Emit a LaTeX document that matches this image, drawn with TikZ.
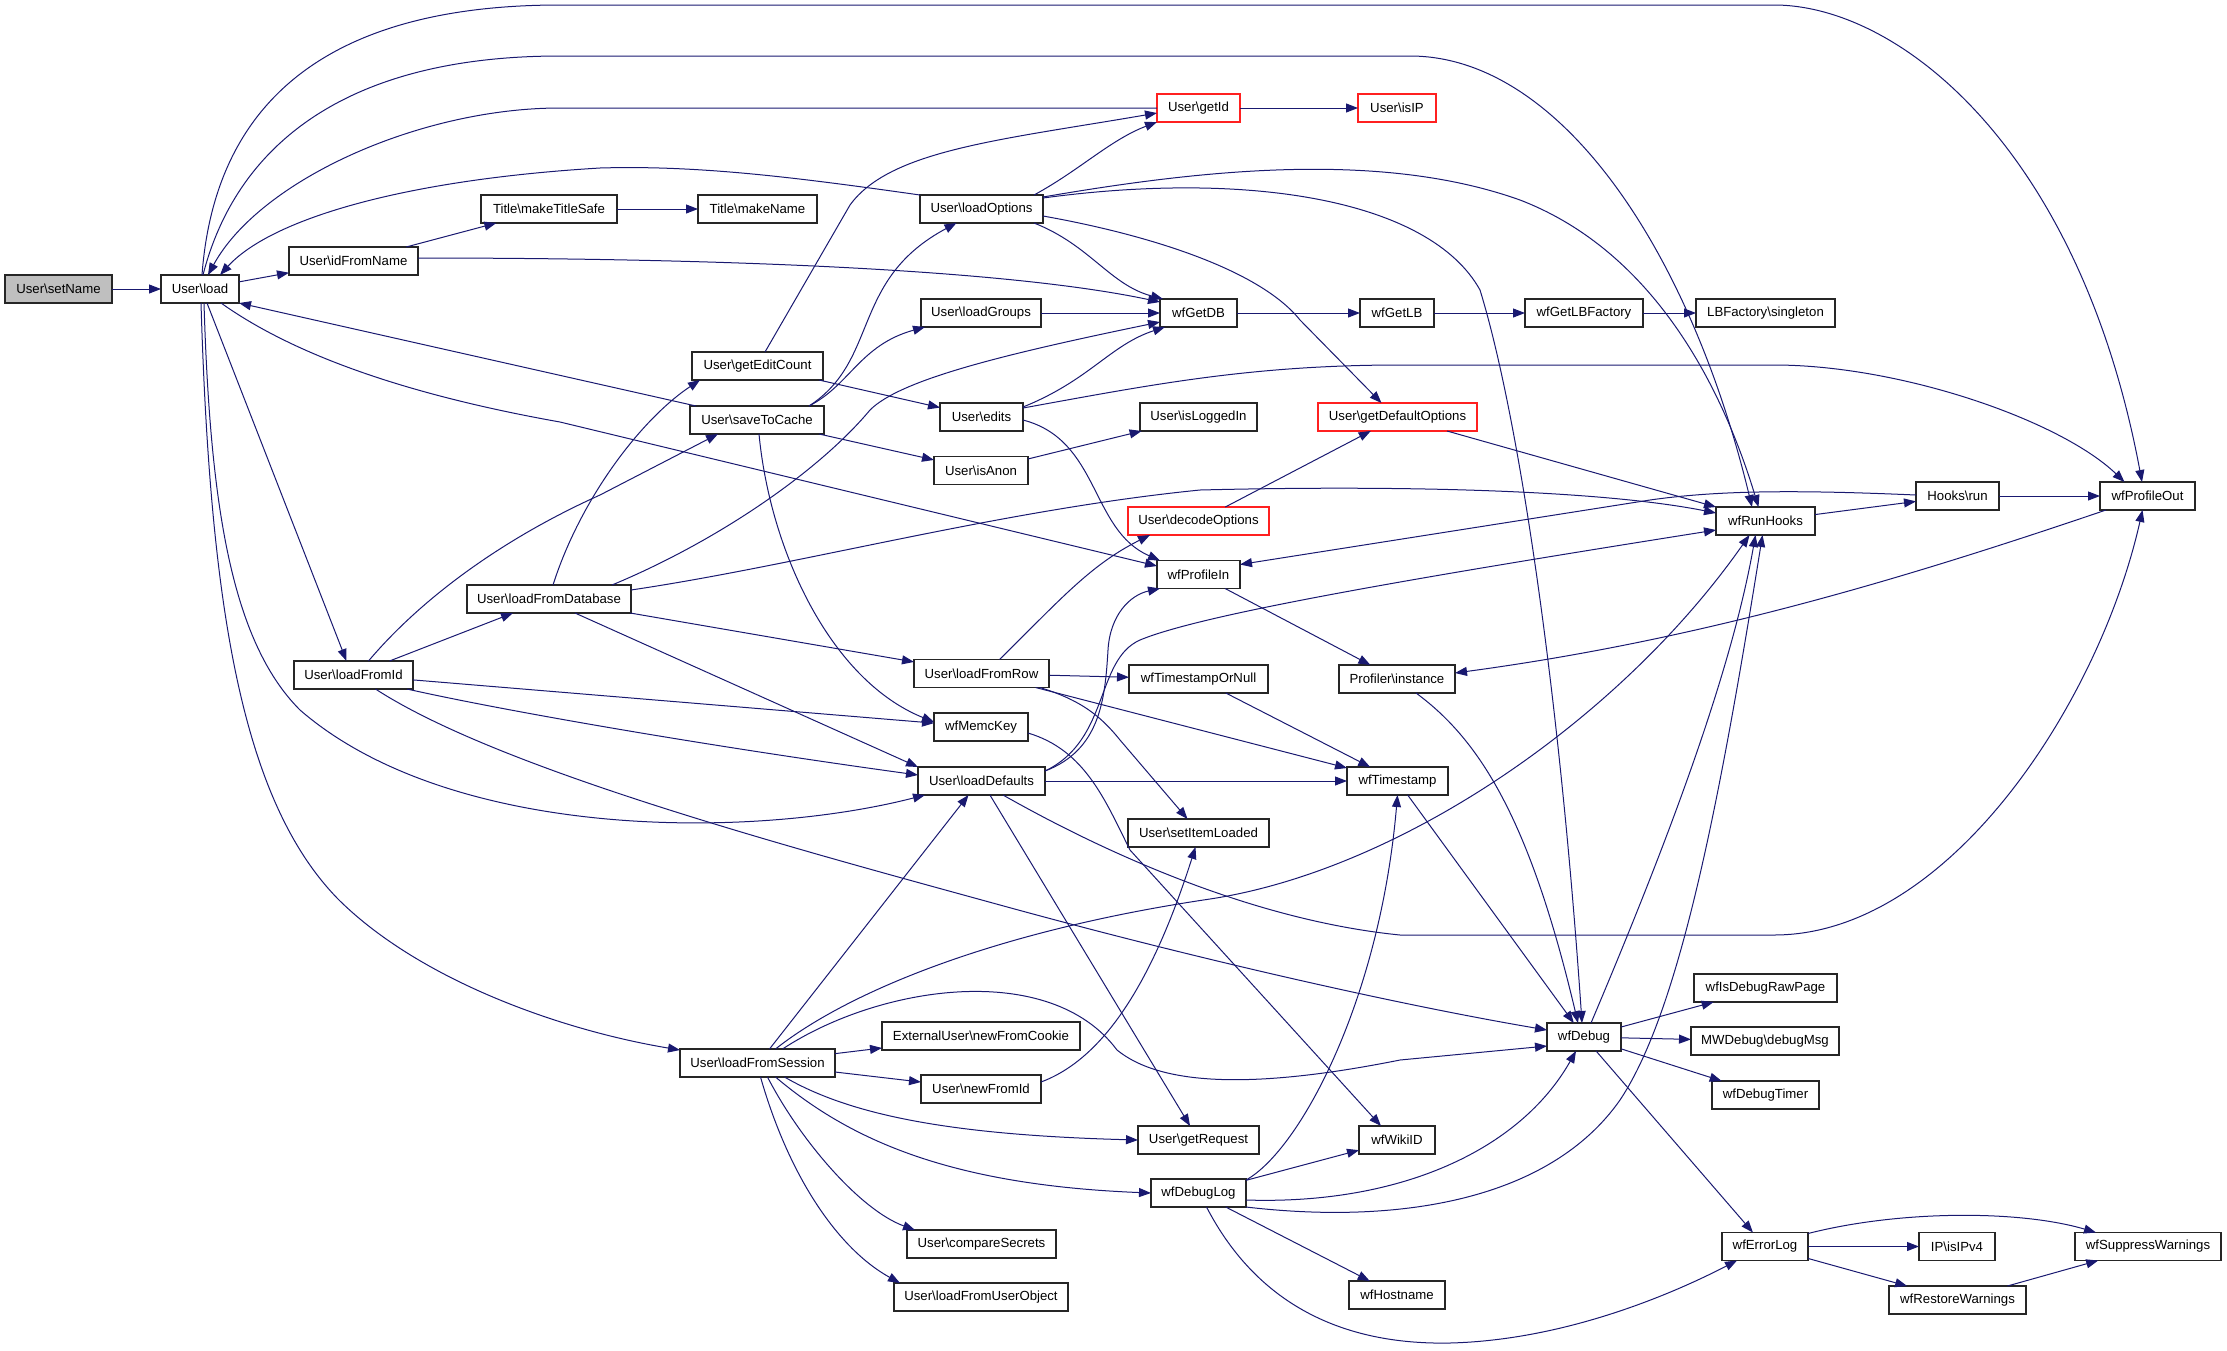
\documentclass[tikz,border=0pt]{standalone}
\usepackage{fontspec}
\setmainfont{Liberation Sans}
\usetikzlibrary{arrows.meta,calc}
\definecolor{edgec}{HTML}{191970}
\definecolor{redb}{HTML}{FF2020}
\definecolor{grayf}{HTML}{BFBFBF}
\begin{document}
\begin{tikzpicture}[x=1pt,y=-1pt,
  nd/.style={draw=black!85,line width=1.2pt,fill=white,minimum height=28pt,inner sep=0pt,outer sep=0pt,font=\fontsize{13.2}{15}\selectfont,anchor=center},
  rednd/.style={nd,draw=redb},
  e/.style={draw=edgec,line width=1pt,-{Triangle[length=12pt,width=9pt]}}]
\useasboundingbox (0,0) rectangle (2227,1350);
% nodes
\node[nd,fill=grayf,minimum width=107pt] (setName) at (58.5,289) {User\textbackslash setName};
\node[nd,minimum width=78pt] (load) at (200,289) {User\textbackslash load};
\node[nd,minimum width=129pt] (idFromName) at (353.5,261) {User\textbackslash idFromName};
\node[nd,minimum width=136pt] (makeTitleSafe) at (549,209) {Title\textbackslash makeTitleSafe};
\node[nd,minimum width=119pt] (makeName) at (757.5,209) {Title\textbackslash makeName};
\node[nd,minimum width=123pt] (loadOptions) at (981.5,209) {User\textbackslash loadOptions};
\node[nd,minimum width=120pt] (loadGroups) at (981,313) {User\textbackslash loadGroups};
\node[nd,minimum width=131pt] (getEditCount) at (757.5,366) {User\textbackslash getEditCount};
\node[nd,minimum width=134pt] (saveToCache) at (757,420) {User\textbackslash saveToCache};
\node[nd,minimum width=83pt] (edits) at (981.5,417) {User\textbackslash edits};
\node[rednd,minimum width=83pt] (getId) at (1198.5,108) {User\textbackslash getId};
\node[rednd,minimum width=78pt] (isIP) at (1397,108) {User\textbackslash isIP};
\node[nd,minimum width=77pt] (wfGetDB) at (1198.5,313) {wfGetDB};
\node[nd,minimum width=74pt] (wfGetLB) at (1397,313) {wfGetLB};
\node[nd,minimum width=118pt] (wfGetLBFactory) at (1584,313) {wfGetLBFactory};
\node[nd,minimum width=117pt] (isLoggedIn) at (1198.5,417) {User\textbackslash isLoggedIn};
\node[rednd,minimum width=159pt] (getDefaultOptions) at (1397.5,417) {User\textbackslash getDefaultOptions};
\node[nd,minimum width=139pt] (singleton) at (1765.5,313) {LBFactory\textbackslash singleton};
\node[nd,minimum width=99pt] (wfRunHooks) at (1765.5,521) {wfRunHooks};
\node[nd,minimum width=83pt] (hooksrun) at (1957.5,496) {Hooks\textbackslash run};
\node[nd,minimum width=95pt] (wfProfileOut) at (2147.5,496) {wfProfileOut};
\node[nd,minimum width=119pt] (loadFromId) at (353.5,675) {User\textbackslash loadFromId};
\node[nd,minimum width=164pt] (loadFromDatabase) at (549,599) {User\textbackslash loadFromDatabase};
\node[nd,minimum width=94pt] (isAnon) at (981,470.5) {User\textbackslash isAnon};
\node[nd,minimum width=135pt] (loadFromRow) at (981.5,673.5) {User\textbackslash loadFromRow};
\node[nd,minimum width=94pt] (wfMemcKey) at (981,727) {wfMemcKey};
\node[nd,minimum width=127pt] (loadDefaults) at (981.5,781) {User\textbackslash loadDefaults};
\node[rednd,minimum width=141pt] (decodeOptions) at (1198.5,521) {User\textbackslash decodeOptions};
\node[nd,minimum width=83pt] (wfProfileIn) at (1198.5,574.5) {wfProfileIn};
\node[nd,minimum width=139pt] (wfTimestampOrNull) at (1198.5,679) {wfTimestampOrNull};
\node[nd,minimum width=116pt] (profiler) at (1397,679) {Profiler\textbackslash instance};
\node[nd,minimum width=101pt] (wfTimestamp) at (1397.5,781) {wfTimestamp};
\node[nd,minimum width=141pt] (setItemLoaded) at (1198.5,833) {User\textbackslash setItemLoaded};
\node[nd,minimum width=155pt] (loadFromSession) at (757.5,1063) {User\textbackslash loadFromSession};
\node[nd,minimum width=198pt] (newFromCookie) at (981,1036) {ExternalUser\textbackslash newFromCookie};
\node[nd,minimum width=120pt] (newFromId) at (981,1089) {User\textbackslash newFromId};
\node[nd,minimum width=149pt] (compareSecrets) at (981.5,1244) {User\textbackslash compareSecrets};
\node[nd,minimum width=174pt] (loadFromUserObject) at (981,1297) {User\textbackslash loadFromUserObject};
\node[nd,minimum width=121pt] (getRequest) at (1198.5,1140) {User\textbackslash getRequest};
\node[nd,minimum width=76pt] (wfWikiID) at (1397,1140) {wfWikiID};
\node[nd,minimum width=95pt] (wfDebugLog) at (1198.5,1193) {wfDebugLog};
\node[nd,minimum width=96pt] (wfHostname) at (1397,1295) {wfHostname};
\node[nd,minimum width=74pt] (wfDebug) at (1584,1037) {wfDebug};
\node[nd,minimum width=143pt] (wfIsDebugRawPage) at (1765.5,988) {wfIsDebugRawPage};
\node[nd,minimum width=148pt] (debugMsg) at (1765,1041) {MWDebug\textbackslash debugMsg};
\node[nd,minimum width=107pt] (wfDebugTimer) at (1765.5,1095) {wfDebugTimer};
\node[nd,minimum width=86pt] (wfErrorLog) at (1765,1246.5) {wfErrorLog};
\node[nd,minimum width=76pt] (isIPv4) at (1957,1246.5) {IP\textbackslash isIPv4};
\node[nd,minimum width=146pt] (suppress) at (2148,1246.5) {wfSuppressWarnings};
\node[nd,minimum width=137pt] (restore) at (1957.5,1300) {wfRestoreWarnings};
% edges
\draw[e] (setName) -- (load);
\draw[e] (load) -- (idFromName);
\draw[e] (idFromName) -- (makeTitleSafe);
\draw[e] (makeTitleSafe) -- (makeName);
\draw[e] ([yshift=3pt]idFromName.east) .. controls (700,258) and (1000,268) .. ([yshift=11pt]wfGetDB.west);
\draw[e] ([xshift=2pt]load.north) .. controls (215,100) and (330,5) .. (560,5) -- (1774,5) .. controls (1900,5) and (2080,150) .. ([xshift=-5.5pt]wfProfileOut.north);
\draw[e] ([xshift=3pt]load.north) .. controls (235,150) and (340,56) .. (560,56) -- (1410,56) .. controls (1560,56) and (1690,250) .. ([xshift=-13.5pt]wfRunHooks.north);
\draw[e] (getId.west) -- (560,108) .. controls (420,108) and (260,180) .. ([xshift=8pt]load.north);
\draw[e] (loadOptions.north west) .. controls (800,178) and (700,165) .. (600,168) .. controls (400,180) and (270,220) .. ([xshift=20pt]load.north);
\draw[e] ([xshift=6pt]saveToCache.north west) -- (load.south east);
\draw[e] ([xshift=21pt]load.south) .. controls (280,345) and (380,390) .. (560,422) -- ([yshift=8.5pt]wfProfileIn.west);
\draw[e] ([xshift=7pt]load.south) -- ([xshift=-7pt]loadFromId.north);
\draw[e] ([xshift=4pt]load.south) .. controls (210,500) and (230,640) .. (300,710) .. controls (450,840) and (750,840) .. ([xshift=7pt]loadDefaults.south west);
\draw[e] ([xshift=1pt]load.south) .. controls (210,600) and (240,800) .. (339,900) .. controls (420,980) and (560,1030) .. ([yshift=13pt]loadFromSession.west);
\draw[e] ([xshift=7.5pt]getEditCount.north) -- (850,205) .. controls (890,150) and (1000,140) .. ([yshift=-5pt]getId.west);
\draw[e] ([xshift=-9pt]loadOptions.north east) .. controls (1080,170) and (1110,140) .. (getId.south west);
\draw[e] ([yshift=-2pt]loadOptions.north east) .. controls (1200,170) and (1380,150) .. (1520,200) .. controls (1650,250) and (1720,380) .. ([xshift=-7pt]wfRunHooks.north);
\draw[e] ([yshift=-3pt]loadOptions.north east) .. controls (1250,170) and (1430,200) .. (1480,290) .. controls (1520,420) and (1560,700) .. ([xshift=-2pt]wfDebug.north);
\draw[e] ([xshift=-9pt]loadOptions.south east) .. controls (1090,245) and (1110,285) .. ([xshift=3pt]wfGetDB.north west);
\draw[e] ([yshift=-7pt]loadOptions.east) .. controls (1150,235) and (1260,270) .. (1300,320) -- ([xshift=-16pt]getDefaultOptions.north);
\draw[e] (loadGroups) -- (wfGetDB);
\draw[e] ([xshift=52pt]saveToCache.north) .. controls (880,360) and (850,280) .. ([xshift=-25pt]loadOptions.south);
\draw[e] ([xshift=52pt]saveToCache.north) .. controls (850,385) and (860,345) .. ([xshift=4pt]loadGroups.south west);
\draw[e] (saveToCache) -- (isAnon);
\draw[e] ([xshift=2pt]saveToCache.south) .. controls (770,550) and (830,680) .. ([yshift=5pt]wfMemcKey.west);
\draw[e] (getEditCount) -- (edits);
\draw[e] ([yshift=10pt]edits.east) .. controls (1090,380) and (1110,345) .. ([xshift=5pt]wfGetDB.south west);
\draw[e] ([yshift=9pt]edits.east) .. controls (1150,385) and (1250,365) .. (1400,365) -- (1774,365) .. controls (1900,365) and (2060,420) .. ([xshift=-23pt]wfProfileOut.north);
\draw[e] ([yshift=-3pt]edits.east) .. controls (1100,440) and (1090,530) .. ([xshift=3pt]wfProfileIn.north west);
\draw[e] (isAnon) -- (isLoggedIn);
\draw[e] (wfGetDB) -- (wfGetLB);
\draw[e] (wfGetLB) -- (wfGetLBFactory);
\draw[e] (wfGetLBFactory) -- (singleton);
\draw[e] (getId) -- (isIP);
\draw[e] (getDefaultOptions) -- (wfRunHooks);
\draw[e] (decodeOptions) -- (getDefaultOptions);
\draw[e] (wfRunHooks) -- (hooksrun);
\draw[e] (hooksrun) -- (wfProfileOut);
\draw[e] ([yshift=1pt]hooksrun.west) .. controls (1800,490) and (1720,490) .. (1650,500) -- ([yshift=10pt]wfProfileIn.east);
\draw[e] ([xshift=6pt]wfProfileOut.south west) .. controls (1900,580) and (1700,640) .. ([yshift=6pt]profiler.east);
\draw[e] (wfProfileIn) -- (profiler);
\draw[e] ([xshift=19pt]profiler.south) .. controls (1480,740) and (1530,820) .. ([xshift=-6pt]wfDebug.north);
\draw[e] (wfTimestamp) -- (wfDebug);
\draw[e] ([xshift=18pt]loadFromRow.north) .. controls (1060,600) and (1090,565) .. ([xshift=22pt]decodeOptions.south west);
\draw[e] (loadFromRow) -- (wfTimestampOrNull);
\draw[e] ([xshift=-9pt]loadFromRow.south east) .. controls (1080,700) and (1100,715) .. (1120,740) -- ([xshift=-11pt]setItemLoaded.north);
\draw[e] (loadFromRow) -- (wfTimestamp);
\draw[e] (wfTimestampOrNull) -- (wfTimestamp);
\draw[e] (loadDefaults) -- (wfTimestamp);
\draw[e] ([yshift=-6pt]wfMemcKey.east) .. controls (1085,750) and (1105,800) .. (1130,850) -- ([xshift=-16pt]wfWikiID.north);
\draw[e] (loadDefaults) -- (getRequest);
\draw[e] ([xshift=-42pt]loadDefaults.south east) .. controls (1100,850) and (1250,920) .. (1400,935) -- (1774,935) .. controls (1950,935) and (2100,700) .. ([xshift=-5pt]wfProfileOut.south);
\draw[e] ([yshift=10pt]loadDefaults.east) .. controls (1110,740) and (1095,660) .. (1140,640) .. controls (1200,615) and (1400,580) .. ([yshift=-9pt]wfRunHooks.west);
\draw[e] ([yshift=10pt]loadDefaults.east) .. controls (1100,750) and (1105,700) .. (1108,650) .. controls (1110,615) and (1130,595) .. ([xshift=3pt]wfProfileIn.south west);
\draw[e] ([xshift=4pt]loadFromDatabase.north) .. controls (580,500) and (640,420) .. ([xshift=8pt]getEditCount.south west);
\draw[e] ([xshift=63pt]loadFromDatabase.north) .. controls (720,540) and (820,470) .. (870,410) .. controls (900,380) and (1000,355) .. ([yshift=-9pt]wfGetDB.west);
\draw[e] ([yshift=9pt]loadFromDatabase.east) .. controls (800,565) and (1000,510) .. (1200,490) .. controls (1400,485) and (1600,490) .. ([yshift=8pt]wfRunHooks.west);
\draw[e] (loadFromDatabase) -- (loadFromRow);
\draw[e] ([xshift=26pt]loadFromDatabase.south) -- (loadDefaults.north west);
\draw[e] ([xshift=15pt]loadFromId.north) .. controls (420,600) and (500,540) .. (600,495) -- ([xshift=-39pt]saveToCache.south);
\draw[e] (loadFromId) -- (loadFromDatabase);
\draw[e] (loadFromId) -- (wfMemcKey);
\draw[e] ([xshift=-6pt]loadFromId.south east) .. controls (500,710) and (700,745) .. ([yshift=6pt]loadDefaults.west);
\draw[e] ([xshift=22pt]loadFromId.south) .. controls (500,770) and (800,850) .. (1000,905) .. controls (1200,960) and (1400,1005) .. ([yshift=7pt]wfDebug.west);
\draw[e] ([xshift=12pt]loadFromSession.north) -- ([xshift=-13pt]loadDefaults.south);
\draw[e] ([xshift=18pt]loadFromSession.north) .. controls (850,990) and (1000,930) .. (1210,899) .. controls (1400,870) and (1620,720) .. ([xshift=-16pt]wfRunHooks.south);
\draw[e] ([xshift=25pt]loadFromSession.north) .. controls (880,985) and (1050,960) .. (1117,1050) .. controls (1160,1085) and (1250,1090) .. (1400,1060) -- ([yshift=-9pt]wfDebug.west);
\draw[e] (loadFromSession) -- (newFromCookie);
\draw[e] (loadFromSession) -- (newFromId);
\draw[e] ([xshift=27pt]loadFromSession.south) .. controls (850,1115) and (950,1135) .. (getRequest.west);
\draw[e] ([xshift=18pt]loadFromSession.south) .. controls (850,1140) and (950,1185) .. (wfDebugLog.west);
\draw[e] ([xshift=10pt]loadFromSession.south) .. controls (800,1140) and (860,1210) .. ([xshift=8pt]compareSecrets.north west);
\draw[e] ([xshift=3pt]loadFromSession.south) .. controls (790,1180) and (840,1250) .. ([xshift=6pt]loadFromUserObject.north west);
\draw[e] ([yshift=7pt]newFromId.east) .. controls (1100,1060) and (1150,990) .. ([xshift=-3pt]setItemLoaded.south);
\draw[e] (wfDebugLog) -- (wfWikiID);
\draw[e] ([yshift=13pt]wfDebugLog.east) .. controls (1300,1150) and (1380,1000) .. (wfTimestamp.south);
\draw[e] ([yshift=-7pt]wfDebugLog.east) .. controls (1400,1205) and (1520,1150) .. ([xshift=-8pt]wfDebug.south);
\draw[e] (wfDebugLog.south east) .. controls (1400,1225) and (1550,1200) .. (1620,1100) .. controls (1680,1010) and (1720,800) .. ([xshift=-3pt]wfRunHooks.south);
\draw[e] ([xshift=7pt]wfDebug.north) .. controls (1660,860) and (1730,680) .. ([xshift=-10pt]wfRunHooks.south);
\draw[e] (wfDebugLog) -- (wfHostname);
\draw[e] ([xshift=8pt]wfDebugLog.south) .. controls (1260,1310) and (1350,1345) .. (1450,1343) .. controls (1570,1340) and (1680,1290) .. ([xshift=15pt]wfErrorLog.south west);
\draw[e] (wfDebug) -- (wfIsDebugRawPage);
\draw[e] (wfDebug) -- (debugMsg);
\draw[e] (wfDebug) -- (wfDebugTimer);
\draw[e] (wfDebug) -- (wfErrorLog);
\draw[e] (wfErrorLog) -- (isIPv4);
\draw[e] (wfErrorLog) -- (restore);
\draw[e] ([yshift=13pt]wfErrorLog.east) .. controls (1900,1210) and (2020,1210) .. ([xshift=21pt]suppress.north west);
\draw[e] (restore) -- (suppress);
\end{tikzpicture}
\end{document}
